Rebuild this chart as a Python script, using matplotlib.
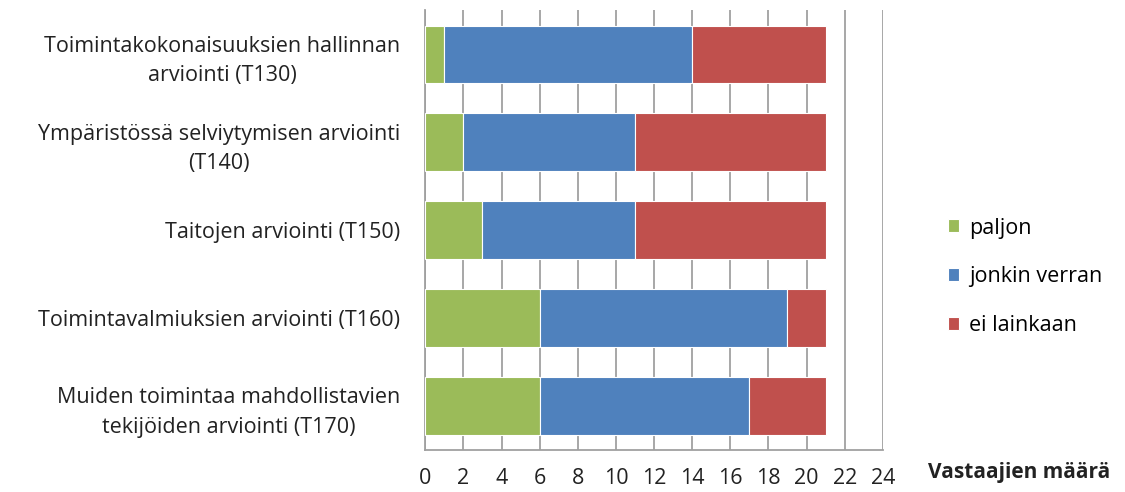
import matplotlib
matplotlib.use("Agg")
import matplotlib.pyplot as plt
import numpy as np

categories = ["Toimintakokonaisuuksien hallinnan\narviointi (T130)",
              "Ympäristössä selviytymisen arviointi\n(T140)",
              "Taitojen arviointi (T150)",
              "Toimintavalmiuksien arviointi (T160)",
              "Muiden toimintaa mahdollistavien\ntekijöiden arviointi (T170)"]
paljon = [1, 2, 3, 6, 6]
jonkin_verran = [13, 9, 8, 13, 11]
ei_lainkaan = [7, 10, 10, 2, 4]
series_names = ["paljon", "jonkin verran", "ei lainkaan"]
colors = ["#9BBB59", "#4F81BD", "#C0504D"]
xticks = list(range(0, 25, 2))

plt.rcParams['font.family'] = ['Open Sans', 'DejaVu Sans']

fig = plt.figure(figsize=(11.25, 4.92), dpi=100)
ax = fig.add_axes([0.378, 0.0854, 0.4067, 0.894])

y = np.arange(len(categories))
left = np.zeros(len(categories))
for vals, name, c in zip([paljon, jonkin_verran, ei_lainkaan], series_names, colors):
    ax.barh(y, vals, left=left, height=0.65, color=c, edgecolor="white",
            linewidth=0.8, label=name, zorder=3)
    left += np.array(vals)

ax.set_ylim(len(categories) - 0.5, -0.5)
ax.set_xlim(0, 24)
ax.set_xticks(xticks)
ax.set_xticklabels([str(t) for t in xticks], fontsize=15.5, color="#222222")
ax.set_yticks(y)
ax.set_yticklabels(categories, fontsize=15.5, ha="right", multialignment="center",
                   color="#222222", linespacing=1.55)
ax.tick_params(axis="y", length=0, pad=18)
ax.tick_params(axis="x", length=0, pad=13)
ax.xaxis.grid(True, color="#a0a0a0", linewidth=1.3, zorder=0)
for s in ["top", "right"]:
    ax.spines[s].set_visible(False)
ax.spines["left"].set_color("#a0a0a0")
ax.spines["bottom"].set_color("#a0a0a0")
ax.spines["left"].set_linewidth(1.3)
ax.spines["bottom"].set_linewidth(1.3)

fig.text(0.825, 0.018, "Vastaajien määrä", fontsize=15, fontweight="bold",
         color="#222222", va="bottom")

handles, labels = ax.get_legend_handles_labels()
fig.legend(handles, labels, loc="center left", bbox_to_anchor=(0.825, 0.437),
           frameon=False, fontsize=15.5, handlelength=0.55, handleheight=0.55,
           handletextpad=0.45, labelspacing=1.3)

fig.savefig("out.png", dpi=100)
